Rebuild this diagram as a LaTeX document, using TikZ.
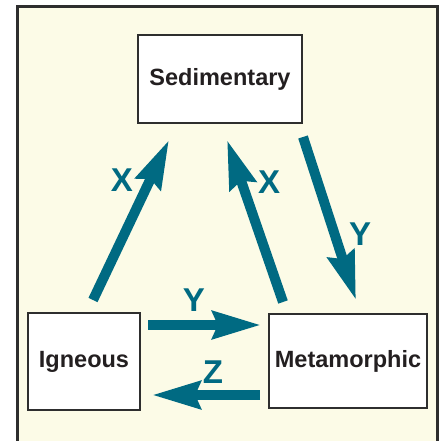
\documentclass[tikz,border=0pt]{standalone}
\usepackage{fontspec}
\setmainfont{Liberation Sans}
\usetikzlibrary{arrows.meta}
\definecolor{teal0}{HTML}{006A82}
\definecolor{cream}{HTML}{FCFBE7}
\definecolor{frameC}{HTML}{2E2E2E}
\definecolor{txt}{HTML}{231F20}
\tikzset{
  rockbox/.style={draw=frameC, line width=1.3bp, fill=white, inner sep=0pt,
    font=\fontsize{23.5bp}{27bp}\selectfont\bfseries, text=txt},
  bigarrow/.style={draw=teal0, line width=10bp,
    -{Stealth[length=48bp, width=27bp, inset=5bp]}},
  lbl/.style={font=\fontsize{33bp}{36bp}\selectfont\bfseries, text=teal0, inner sep=0pt}
}
\begin{document}
\begin{tikzpicture}[x=1bp,y=-1bp]
\useasboundingbox (0,0) rectangle (444,441);
\fill[white] (0,0) rectangle (444,441);
\draw[frameC, line width=3bp, fill=cream] (17.5,470) -- (17.5,6.5) -- (437.5,6.5) -- (437.5,470);
\node[rockbox, minimum width=164bp, minimum height=88bp] (sed) at (220,79) {Sedimentary};
\node[rockbox, minimum width=112bp, minimum height=97bp] (ign) at (84,361.5) {Igneous};
\node[rockbox, minimum width=158bp, minimum height=94bp] (met) at (348,361) {Metamorphic};
\coordinate (x1s) at (93,300);
\coordinate (x1e) at (169,140);
\coordinate (x2s) at (283,302);
\coordinate (x2e) at (227,140);
\coordinate (y1s) at (303,137);
\coordinate (y1e) at (356,300);
\coordinate (y2s) at (148,325);
\coordinate (y2e) at (261,325);
\coordinate (zs) at (260,395);
\coordinate (ze) at (152,395);
\draw[bigarrow] (x1s) -- (x1e);
\draw[bigarrow] (x2s) -- (x2e);
\draw[bigarrow] (y1s) -- (y1e);
\draw[bigarrow] (y2s) -- (y2e);
\draw[bigarrow] (zs) -- (ze);
\node[lbl] (lx1) at (122,180) {X};
\node[lbl] (lx2) at (269,182) {X};
\node[lbl] (ly1) at (360,234) {Y};
\node[lbl] (ly2) at (194,300) {Y};
\node[lbl] (lz) at (213,372) {Z};
\end{tikzpicture}
\end{document}
